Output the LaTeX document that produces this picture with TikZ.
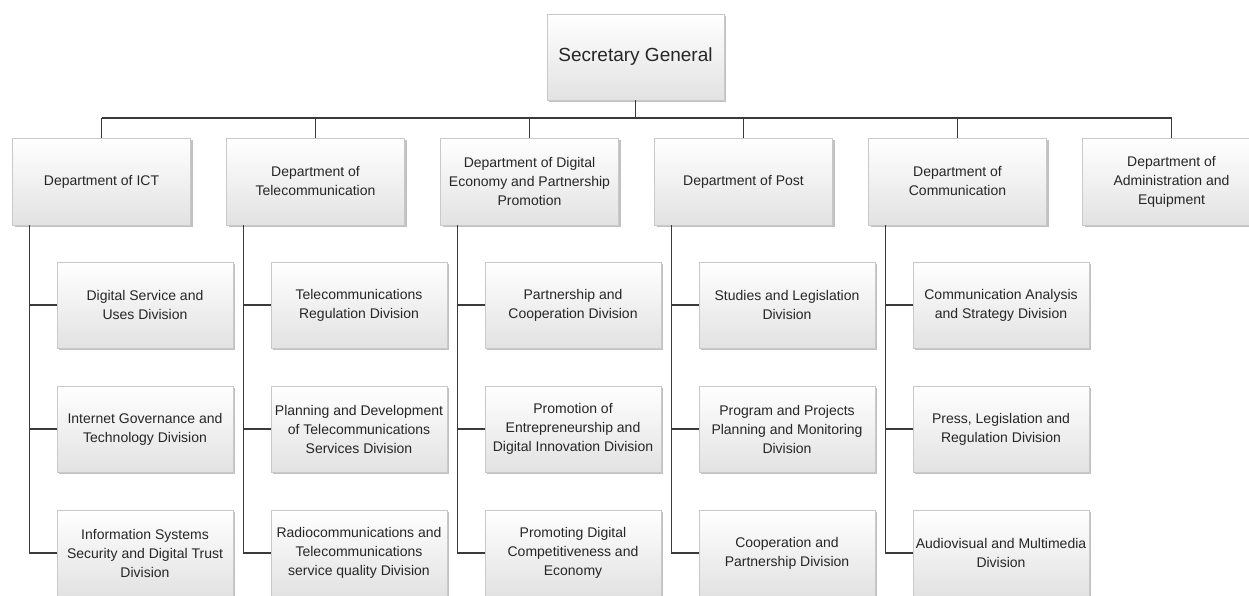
\documentclass[tikz,border=0pt]{standalone}
\usepackage{fontspec}
\setmainfont{Liberation Sans}
\usetikzlibrary{shadows,calc}

\definecolor{linecol}{HTML}{3A3A3A}
\definecolor{boxedge}{HTML}{C9C9C9}
\definecolor{boxbottom}{HTML}{E2E2E2}

\tikzset{
  orgbox/.style={
    draw=boxedge, line width=0.5pt,
    top color=white, bottom color=boxbottom,
    drop shadow={shadow xshift=2.2pt, shadow yshift=-2.4pt, opacity=0.35, fill=black!70},
    align=center, inner sep=0pt, text=black!85,
    font=\fontsize{14}{19}\selectfont
  },
  topbox/.style={orgbox, minimum width=177pt, minimum height=86pt,
    font=\fontsize{19}{23}\selectfont},
  deptbox/.style={orgbox, minimum width=178pt, minimum height=87pt},
  divbox/.style={orgbox, minimum width=176pt, minimum height=86pt},
  link/.style={draw=linecol, line width=1.4pt}
}

\begin{document}
\begin{tikzpicture}[x=1pt,y=-1pt]
\useasboundingbox (0,0) rectangle (1249,596);
\clip (0,0) rectangle (1249,596);

% top of the hierarchy
\node[topbox] (sg) at (635.5,57) {Secretary General};
\coordinate (bus) at (635.5,118);

% departments
\node[deptbox] (ict)  at (101.5,181.5)  {Department of ICT};
\node[deptbox] (tel)  at (315.5,181.5)  {Department of\\Telecommunication};
\node[deptbox] (eco)  at (529.5,181.5)  {Department of Digital\\Economy and Partnership\\Promotion};
\node[deptbox] (post) at (743.5,181.5)  {Department of Post};
\node[deptbox] (com)  at (957.5,181.5)  {Department of\\Communication};
\node[deptbox] (adm)  at (1171.5,181.5) {Department of\\Administration and\\Equipment};

% divisions, three rows under each department
\node[divbox] (ict1) at (145,305) {Digital Service and\\Uses Division};
\node[divbox] (ict2) at (145,429) {Internet Governance and\\Technology Division};
\node[divbox] (ict3) at (145,553) {Information Systems\\Security and Digital Trust\\Division};

\node[divbox] (tel1) at (359,305) {Telecommunications\\Regulation Division};
\node[divbox] (tel2) at (359,429) {Planning and Development\\of Telecommunications\\Services Division};
\node[divbox] (tel3) at (359,553) {Radiocommunications and\\Telecommunications\\service quality Division};

\node[divbox] (eco1) at (573,305) {Partnership and\\Cooperation Division};
\node[divbox] (eco2) at (573,429) {Promotion of\\Entrepreneurship and\\Digital Innovation Division};
\node[divbox] (eco3) at (573,553) {Promoting Digital\\Competitiveness and\\Economy};

\node[divbox] (post1) at (787,305) {Studies and Legislation\\Division};
\node[divbox] (post2) at (787,429) {Program and Projects\\Planning and Monitoring\\Division};
\node[divbox] (post3) at (787,553) {Cooperation and\\Partnership Division};

\node[divbox] (com1) at (1001,305) {Communication Analysis\\and Strategy Division};
\node[divbox] (com2) at (1001,429) {Press, Legislation and\\Regulation Division};
\node[divbox] (com3) at (1001,553) {Audiovisual and Multimedia\\Division};

% connectors: secretary general to the departments
\draw[link] (sg.south) -- (bus);
\draw[link] (ict.north |- bus) -- (adm.north |- bus);
\foreach \d in {ict,tel,eco,post,com,adm}
  \draw[link] (\d.north |- bus) -- (\d.north);

% connectors: each department's spine to its divisions
\foreach \d in {ict,tel,eco,post,com} {
  \coordinate (\d spine) at ($(\d.south west)+(17.5,0)$);
  \draw[link] (\d spine) |- (\d3.west);
  \draw[link] (\d spine |- \d1.west) -- (\d1.west);
  \draw[link] (\d spine |- \d2.west) -- (\d2.west);
}
\end{tikzpicture}
\end{document}
